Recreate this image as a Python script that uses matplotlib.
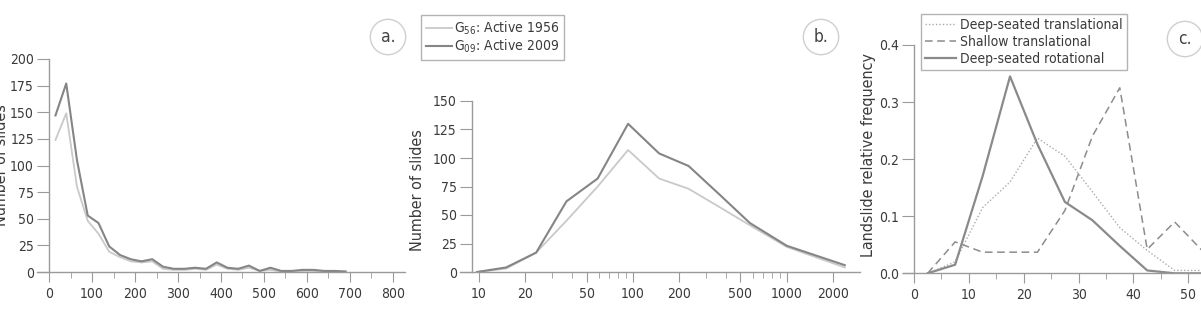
import matplotlib
matplotlib.use('Agg')
from matplotlib import pyplot as plt
from matplotlib.ticker import FixedLocator, NullFormatter
import numpy as np

# panel a: size bins
a_x = [15, 40, 65, 90, 115, 140, 165, 190, 215, 240, 265, 290, 315, 340,
       365, 390, 415, 440, 465, 490, 515, 540, 565, 590, 615, 640, 665, 690]
a_2009 = [147, 177, 105, 53, 46, 24, 16, 12, 10, 12, 5, 3, 3, 4,
          3, 9, 4, 3, 6, 1, 4, 1, 1, 2, 2, 1, 1, 0.5]
a_1956 = [124, 149, 80, 48, 36, 19, 14, 10, 9, 10, 3, 2, 2, 3,
          2, 7, 3, 2, 4, 1, 2, 0.5, 1, 1, 1, 0.5, 0.5, 0]

# panel b: log bins
b_x = [9.7, 15, 23.5, 37, 59, 93, 148, 230, 365, 575, 1000, 2380]
b_2009 = [0, 4, 17, 62, 82, 130, 104, 93, 68, 43, 23, 6]
b_1956 = [0, 3, 17, 45, 75, 107, 82, 73, 57, 41, 22, 4]
b_ticks = [10, 20, 50, 100, 200, 500, 1000, 2000]
b_tick_labels = ['10', '20', '50', '100', '200', '500', '1000', '2000']

# panel c: slope classes
c_x = [2.5, 7.5, 12.5, 17.5, 22.5, 27.5, 32.5, 37.5, 42.5, 47.5, 52.5]
deep_trans = [0, 0.02, 0.115, 0.16, 0.237, 0.205, 0.143, 0.08, 0.04, 0.005, 0.005]
shallow = [0, 0.055, 0.037, 0.037, 0.037, 0.11, 0.24, 0.325, 0.042, 0.09, 0.04]
deep_rot = [0, 0.015, 0.17, 0.345, 0.226, 0.125, 0.093, 0.048, 0.005, 0.0, 0.0]

plt.rcParams['font.family'] = ['DejaVu Sans']
plt.rcParams['font.stretch'] = 'condensed'
plt.rcParams['font.size'] = 10

W, H = 1201, 312
LIGHT = '#c9c9c9'
DARK = '#858585'
AXC = '#9a9a9a'
TXT = '#3a3a3a'
TICK_FS = 10
LEG_FS = 10
LAB_FS = 11.5
P = 0.72  # points per pixel at dpi 100


def px(l, r, t, b):
    return [l / W, 1 - b / H, (r - l) / W, (b - t) / H]


def style(ax):
    for s in ('top', 'right'):
        ax.spines[s].set_visible(False)
    for s in ('left', 'bottom'):
        ax.spines[s].set_color(AXC)
        ax.spines[s].set_linewidth(1.0)
    ax.tick_params(which='both', colors=AXC, labelcolor=TXT, labelsize=TICK_FS)
    ax.tick_params(axis='y', length=12 * P, pad=3 * P)
    ax.tick_params(axis='x', which='major', length=10 * P, pad=5 * P)
    ax.tick_params(axis='x', which='minor', length=6 * P)


def legend_style(leg):
    leg.get_frame().set_edgecolor('#a0a0a0')
    leg.get_frame().set_linewidth(1.0)
    for t in leg.get_texts():
        t.set_color(TXT)


fig = plt.figure(figsize=(W / 100, H / 100), dpi=100)

# a
ax = fig.add_axes(px(37, 405, 59, 272))
ax.plot(a_x, a_1956, color=LIGHT, lw=1.3)
ax.plot(a_x, a_2009, color=DARK, lw=1.5)
ax.set_xlim(-28, 828)
ax.set_ylim(0, 200)
ax.spines['left'].set_position(('data', 0))
ax.set_xticks(np.arange(0, 801, 100))
ax.xaxis.set_minor_locator(FixedLocator(np.arange(50, 800, 100)))
ax.set_yticks(np.arange(0, 201, 25))
style(ax)
ax.set_ylabel('Number of slides', fontsize=LAB_FS, color=TXT)
ax.yaxis.set_label_coords(-0.0765, 0.5)

# b
ax = fig.add_axes(px(460, 860, 101, 272))
ax.plot(b_x, b_1956, color=LIGHT, lw=1.3, label='G$_{\\mathregular{56}}$: Active 1956')
ax.plot(b_x, b_2009, color=DARK, lw=1.5, label='G$_{\\mathregular{09}}$: Active 2009')
ax.set_xscale('log')
ax.set_xlim(7.52, 2990)
ax.set_ylim(0, 150)
ax.spines['left'].set_position(('data', 8.97))
ax.xaxis.set_major_locator(FixedLocator(b_ticks))
ax.set_xticklabels(b_tick_labels)
ax.xaxis.set_minor_locator(FixedLocator([30, 40, 60, 70, 80, 90, 300, 400, 600, 700, 800, 900]))
ax.xaxis.set_minor_formatter(NullFormatter())
ax.set_yticks(np.arange(0, 151, 25))
style(ax)
ax.set_ylabel('Number of slides', fontsize=LAB_FS, color=TXT)
ax.yaxis.set_label_coords(-0.087, 0.48)
leg = ax.legend(loc='upper left', bbox_to_anchor=(421 / W, 1 - 15 / H),
                bbox_transform=fig.transFigure, fancybox=False, frameon=True,
                handlelength=1.9, handletextpad=0.15, borderpad=0.35,
                labelspacing=0.05, fontsize=LEG_FS, borderaxespad=0)
legend_style(leg)

# c
ax = fig.add_axes(px(903, 1201, 45, 273.3))
ax.plot(c_x, deep_trans, color='#ababab', lw=1.0, ls=(0, (1, 1.5)), label='Deep-seated translational')
ax.plot(c_x, shallow, color='#8c8c8c', lw=1.1, ls=(0, (5, 3)), label='Shallow translational')
ax.plot(c_x, deep_rot, color='#8a8a8a', lw=1.6, label='Deep-seated rotational')
ax.set_xlim(-2.0, 52.3)
ax.set_ylim(0, 0.4)
ax.spines['left'].set_position(('data', 0))
ax.set_xticks(np.arange(0, 51, 10))
ax.xaxis.set_minor_locator(FixedLocator(np.arange(5, 51, 10)))
ax.set_yticks([0.0, 0.1, 0.2, 0.3, 0.4])
ax.set_yticklabels(['0.0', '0.1', '0.2', '0.3', '0.4'])
style(ax)
ax.set_ylabel('Landslide relative frequency', fontsize=LAB_FS, color=TXT)
ax.yaxis.set_label_coords(-0.092, 0.52)
leg = ax.legend(loc='upper left', bbox_to_anchor=(921 / W, 1 - 14 / H),
                bbox_transform=fig.transFigure, fancybox=False, frameon=True,
                handlelength=2.2, handletextpad=0.3, borderpad=0.3,
                labelspacing=0.2, fontsize=LEG_FS, borderaxespad=0)
legend_style(leg)

# panel letters
for x, y, s in [(388, 37, 'a.'), (821, 37, 'b.'), (1185, 39, 'c.')]:
    fig.text(x / W, 1 - y / H, s, ha='center', va='center', fontsize=12.5, color='#444444',
             bbox=dict(boxstyle='circle,pad=0.5', fc='white', ec='#cfcfcf', lw=1.0))

fig.savefig('out.png', dpi=100)
